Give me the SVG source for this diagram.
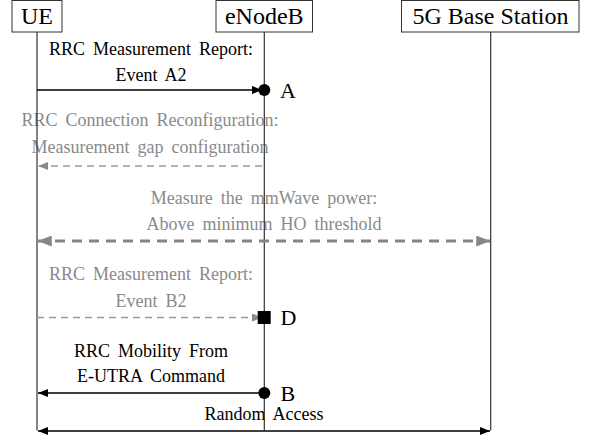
<svg xmlns="http://www.w3.org/2000/svg" width="592" height="438" viewBox="0 0 592 438">
<style>
.box{fill:#fff;stroke:#333;stroke-width:1}
.hd{font-family:"Liberation Serif","Times New Roman",serif;font-size:24px;fill:#000;text-anchor:middle}
.life{stroke:#333;stroke-width:1.2;fill:none}
.msg{font-family:"Liberation Serif","Times New Roman",serif;font-size:18px;word-spacing:3.5px;text-anchor:middle;fill:#000}
.gray{fill:#8a8a8a}
.lbl{font-family:"Liberation Serif","Times New Roman",serif;font-size:22px;fill:#000}
.solid{stroke:#000;stroke-width:1.3;fill:none}
.thin{stroke:#9a9a9a;stroke-width:1.5;stroke-dasharray:7 5;fill:none}
.thick{stroke:#858585;stroke-width:3;stroke-dasharray:10 7;fill:none}
</style>
<defs>
<marker id="ab" viewBox="0 0 10 8" refX="10" refY="4" markerWidth="10" markerHeight="8" markerUnits="userSpaceOnUse" orient="auto-start-reverse"><path d="M0,0 L10,4 L0,8 z" fill="#000"/></marker>
<marker id="ag" viewBox="0 0 10 8" refX="10" refY="4" markerWidth="10" markerHeight="8" markerUnits="userSpaceOnUse" orient="auto-start-reverse"><path d="M0,0 L10,4 L0,8 z" fill="#8a8a8a"/></marker>
<marker id="agb" viewBox="0 0 10 8" refX="10" refY="4" markerWidth="14" markerHeight="11" markerUnits="userSpaceOnUse" orient="auto-start-reverse"><path d="M0,0 L10,4 L0,8 z" fill="#858585"/></marker>
</defs>

<g id="ue">
<rect class="box" x="12" y="0.5" width="50" height="31.5"/>
<text class="hd" x="37" y="23.5">UE</text>
</g>
<g id="enodeb">
<rect class="box" x="216" y="0.5" width="96.5" height="31.5"/>
<text class="hd" x="264.3" y="23.5">eNodeB</text>
</g>
<g id="bs5g">
<rect class="box" x="401.5" y="0.5" width="177.5" height="31.5"/>
<text class="hd" x="490.5" y="23.5">5G Base Station</text>
</g>

<g id="labels">
<text class="msg" x="151" y="55">RRC Measurement Report:</text>
<text class="msg" x="151" y="81">Event A2</text>
<text class="msg gray" x="150" y="126">RRC Connection Reconfiguration:</text>
<text class="msg gray" x="150" y="152.5">Measurement gap configuration</text>
<text class="msg gray" x="264" y="204">Measure the mmWave power:</text>
<text class="msg gray" x="264" y="230">Above minimum HO threshold</text>
<text class="msg gray" x="151" y="280">RRC Measurement Report:</text>
<text class="msg gray" x="151" y="306.5">Event B2</text>
<text class="msg" x="151" y="356.5">RRC Mobility From</text>
<text class="msg" x="151" y="381.5">E-UTRA Command</text>
<text class="msg" x="264" y="420">Random Access</text>
<text class="lbl" x="280" y="97.5">A</text>
<text class="lbl" x="280.5" y="325">D</text>
<text class="lbl" x="280.5" y="400.7">B</text>
</g>

<g id="lifelines">
<line class="life" x1="37" y1="32" x2="37" y2="430.5"/>
<line class="life" x1="264.3" y1="32" x2="264.3" y2="430.5"/>
<line class="life" x1="490.7" y1="32" x2="490.7" y2="430.5"/>
</g>

<g id="connectors">
<line class="solid" x1="37" y1="90" x2="262" y2="90" marker-end="url(#ab)"/>
<circle cx="264.3" cy="90" r="6" fill="#000"/>
<line class="thin" x1="262" y1="166" x2="38" y2="166" marker-end="url(#ag)"/>
<line class="thick" x1="38" y1="241" x2="490" y2="241" marker-start="url(#agb)" marker-end="url(#agb)"/>
<line class="thin" x1="37" y1="317.5" x2="262" y2="317.5" marker-end="url(#ag)"/>
<rect x="257.7" y="311" width="13" height="13" fill="#000"/>
<line class="solid" x1="262" y1="393" x2="38" y2="393" marker-end="url(#ab)"/>
<circle cx="264.3" cy="393" r="6" fill="#000"/>
<line class="solid" x1="38" y1="431" x2="490" y2="431" marker-start="url(#ab)" marker-end="url(#ab)"/>
</g>
</svg>
